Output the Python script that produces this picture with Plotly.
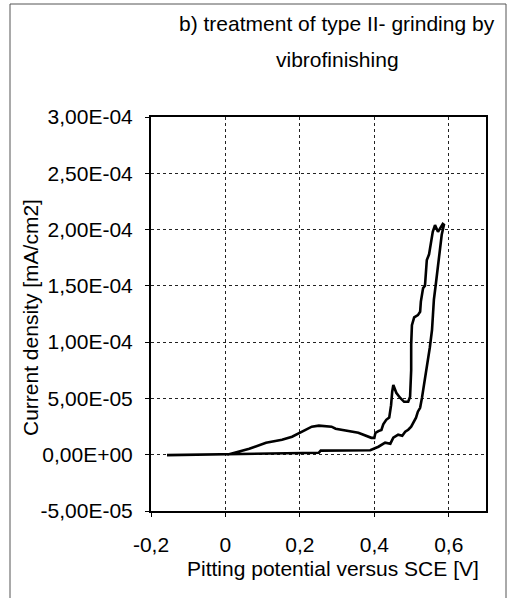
import plotly.graph_objects as go

# Cyclic polarization curve: forward (lower) branch then reverse (upper) branch
potential_fwd = [-0.157, 0.051, 0.251, 0.256, 0.389, 0.411, 0.429, 0.443, 0.451, 0.464,
                 0.475, 0.483, 0.491, 0.499, 0.504, 0.512, 0.517, 0.523, 0.528, 0.536,
                 0.544, 0.549, 0.555, 0.560, 0.565, 0.571, 0.576, 0.581, 0.587]
current_fwd_e5 = [-0.04, 0.04, 0.18, 0.36, 0.40, 0.71, 1.07, 0.98, 1.51, 1.78,
                  1.69, 2.04, 2.22, 2.49, 2.84, 3.29, 3.82, 4.17, 5.06, 6.66,
                  8.26, 9.50, 11.10, 13.77, 15.10, 16.87, 18.38, 19.54, 20.43]

potential_rev = [0.584, 0.571, 0.563, 0.557, 0.552, 0.547, 0.541, 0.539, 0.536, 0.531,
                 0.528, 0.525, 0.523, 0.517, 0.507, 0.501, 0.499, 0.499, 0.496, 0.491,
                 0.480, 0.469, 0.459, 0.451, 0.448, 0.445, 0.440, 0.432, 0.424, 0.419,
                 0.411, 0.403, 0.400, 0.392, 0.357, 0.323, 0.296, 0.285, 0.251, 0.232,
                 0.197, 0.179, 0.152, 0.109, 0.064, 0.024, 0.005]
current_rev_e5 = [20.5, 19.8, 20.4, 19.8, 18.9, 17.8, 17.3, 16.3, 15.0, 14.8,
                  14.2, 13.6, 12.7, 12.4, 12.2, 11.5, 9.8, 7.5, 5.15, 4.7,
                  4.7, 5.06, 5.5, 6.2, 5.6, 4.4, 3.3, 3.1, 2.7, 2.2,
                  2.1, 1.95, 1.5, 1.5, 1.95, 2.13, 2.31, 2.49, 2.58, 2.49,
                  1.95, 1.6, 1.33, 1.07, 0.53, 0.18, 0.0]

x_tickvals = [-0.2, 0, 0.2, 0.4, 0.6]
x_ticktext = ["-0,2", "0", "0,2", "0,4", "0,6"]
y_tickvals = [-5e-5, 0, 5e-5, 1e-4, 1.5e-4, 2e-4, 2.5e-4, 3e-4]
y_ticktext = ["-5,00E-05", "0,00E+00", "5,00E-05", "1,00E-04", "1,50E-04",
              "2,00E-04", "2,50E-04", "3,00E-04"]

title_lines = ["b) treatment of type II- grinding by", "vibrofinishing"]
x_title = "Pitting potential versus SCE [V]"
y_title = "Current density [mA/cm2]"

xs = potential_fwd + potential_rev
ys = [v * 1e-5 for v in current_fwd_e5 + current_rev_e5]

FONT = "Liberation Sans, Arial, sans-serif"
FS = 21

fig = go.Figure()
fig.add_trace(go.Scatter(x=xs, y=ys, mode="lines",
                         line=dict(color="black", width=2.6), showlegend=False,
                         hoverinfo="skip"))

L, R, T, B = 151, 29, 117, 87
W, H = 515, 598
pw, ph = W - L - R, H - T - B


def px(xp):
    return (xp - L) / pw


def py(yp):
    return (H - B - yp) / ph


fig.update_layout(
    width=W, height=H,
    margin=dict(l=L, r=R, t=T, b=B, pad=0),
    paper_bgcolor="white", plot_bgcolor="white",
    font=dict(family=FONT, size=FS, color="black"),
    xaxis=dict(range=[-0.2, 0.7], tickvals=x_tickvals, ticktext=x_ticktext,
               showgrid=True, gridcolor="#222", griddash="dot", gridwidth=1,
               showline=True, linecolor="black", linewidth=2, mirror=True,
               ticks="outside", ticklen=4, tickcolor="black", zeroline=False,
               tickfont=dict(size=FS), ticklabelstandoff=10),
    yaxis=dict(range=[-5e-5, 3e-4], tickvals=y_tickvals, ticktext=y_ticktext,
               showgrid=True, gridcolor="#222", griddash="dot", gridwidth=1,
               showline=True, linecolor="black", linewidth=2, mirror=True,
               ticks="outside", ticklen=4, tickcolor="black", zeroline=False,
               tickfont=dict(size=FS), ticklabelstandoff=8),
    showlegend=False,
)

annotations = [
    dict(text=title_lines[0], x=px(337), y=py(23)),
    dict(text=title_lines[1], x=px(337), y=py(60)),
    dict(text=x_title, x=px(333), y=py(568)),
    dict(text=y_title, x=px(30), y=py(318), textangle=-90),
]
for a in annotations:
    fig.add_annotation(xref="paper", yref="paper", showarrow=False,
                       xanchor="center", yanchor="middle",
                       font=dict(family=FONT, size=FS, color="black"), **a)

# outer frame of the scanned figure (open at the bottom)
frame = dict(color="#555", width=1)
fig.add_shape(type="line", xref="paper", yref="paper", x0=px(10), x1=px(10), y0=py(4), y1=py(598), line=frame)
fig.add_shape(type="line", xref="paper", yref="paper", x0=px(506), x1=px(506), y0=py(4), y1=py(598), line=frame)
fig.add_shape(type="line", xref="paper", yref="paper", x0=px(10), x1=px(506), y0=py(4), y1=py(4), line=frame)

fig.write_html("out.html")
